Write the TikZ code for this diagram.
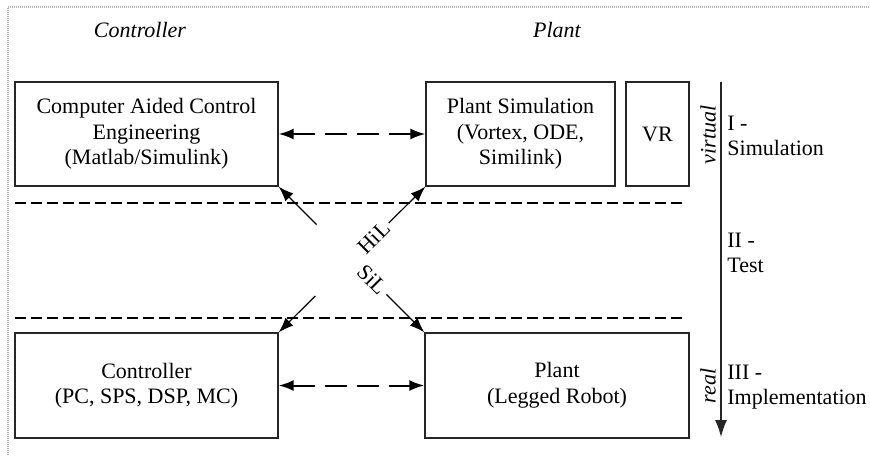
\documentclass[tikz,border=0pt]{standalone}
\usepackage{fontspec}
\setmainfont{Liberation Serif}
\usetikzlibrary{arrows.meta}
\begin{document}
\begin{tikzpicture}[x=0.5pt,y=-0.5pt,
  every node/.style={font=\fontsize{11}{12.8}\selectfont},
  box/.style={draw=black!85, line width=0.65pt, inner sep=0pt, align=center},
  linkarrow/.style={line width=1pt, dash pattern=on 11pt off 5pt,
    {Latex[length=7.5pt,width=5.5pt]}-{Latex[length=7.5pt,width=5.5pt]}},
  crossarrow/.style={line width=0.6pt, -{Latex[length=7.5pt,width=5.5pt]}},
  tierline/.style={line width=1pt, dash pattern=on 5.3pt off 2.7pt},
  stagetext/.style={align=left, anchor=west, inner sep=0pt},
  axislabel/.style={rotate=90, inner sep=0pt, font=\fontsize{11}{12.8}\selectfont\itshape},
  header/.style={font=\fontsize{11}{12.8}\selectfont\itshape}
]
% canvas
\useasboundingbox (0,0) rectangle (870,455);
\coordinate (frameBL) at (8,455);
\coordinate (frameTL) at (8,7);
\coordinate (frameTR) at (870,7);
\draw[gray!60, line width=0.8pt, dash pattern=on 0.5pt off 0.5pt]
  (frameBL) -- (frameTL) -- (frameTR);

% column headers
\node[header] (hctrl) at (140,30) {Controller};
\node[header] (hplant) at (557,30) {Plant};

% virtual level
\node[box, minimum width=131.5pt, minimum height=52pt] (cace) at (146.5,134)
  {Computer Aided Control\\Engineering\\(Matlab/Simulink)};
\node[box, minimum width=94.5pt, minimum height=52pt] (psim) at (520.5,134)
  {Plant Simulation\\(Vortex, ODE,\\Similink)};
\node[box, minimum width=31.5pt, minimum height=52pt] (vr) at (657.5,134) {VR};

% real level
\node[box, minimum width=131.5pt, minimum height=52.5pt] (ctrl) at (146.5,385.5)
  {Controller\\(PC, SPS, DSP, MC)};
\node[box, minimum width=132pt, minimum height=52.5pt] (plant) at (557,385.5)
  {Plant\\(Legged Robot)};

% exchange between controller and plant
\draw[linkarrow] (cace.east) -- (psim.west);
\draw[linkarrow] (ctrl.east) -- (plant.west);

% tier separators
\coordinate (t1a) at (15,203);  \coordinate (t1b) at (683,203);
\coordinate (t2a) at (15,318);  \coordinate (t2b) at (683,318);
\draw[tierline] (t1a) -- (t1b);
\draw[tierline] (t2a) -- (t2b);

% HiL / SiL crossing
\path (cace.south east) -- (plant.north west)
  coordinate[pos=0.26] (s1) coordinate[pos=0.74] (s2)
  node[pos=0.64, rotate=-45, inner sep=0pt] (sil) {SiL};
\path (ctrl.north east) -- (psim.south west)
  coordinate[pos=0.25] (h1) coordinate[pos=0.75] (h2)
  node[pos=0.65, rotate=45, inner sep=0pt] (hil) {HiL};
\draw[crossarrow] (s1) -- (cace.south east);
\draw[crossarrow] (s2) -- (plant.north west);
\draw[crossarrow] (h1) -- (ctrl.north east);
\draw[crossarrow] (h2) -- (psim.south west);

% virtual-to-real axis
\coordinate (axtop) at (721,82);
\coordinate (axbot) at (721,437);
\draw[line width=0.65pt, black!85, -{Latex[length=8.5pt,width=6pt]}] (axtop) -- (axbot);
\node[axislabel] (virt) at (708,135) {virtual};
\node[axislabel] (realtxt) at (708,386) {real};

% stage names
\node[stagetext] (st1) at (727,136) {I -\\Simulation};
\node[stagetext] (st2) at (727,253) {II -\\Test};
\node[stagetext] (st3) at (727,387) {III -\\Implementation};
\end{tikzpicture}
\end{document}
